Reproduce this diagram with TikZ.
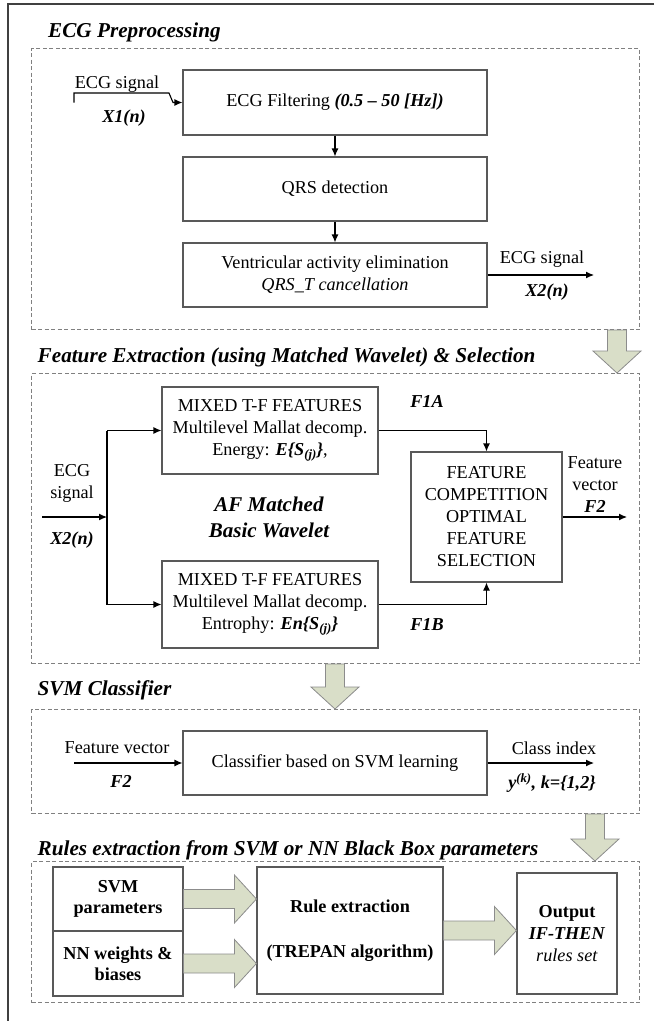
\documentclass[tikz,border=0pt]{standalone}
\usepackage{fontspec}
\setmainfont{Liberation Serif}
\usetikzlibrary{calc,arrows.meta}

\definecolor{sage}{RGB}{217,222,200}
\newcommand\bi[1]{\textbf{\textit{#1}}}
\newcommand\fatarrow[2]{%
  \coordinate (fa-h) at ($(#2)!22pt!(#1)$);
  \filldraw[fat] ($(#1)!9.5pt!90:(#2)$) -- ($(fa-h)!9.5pt!-90:(#1)$) -- ($(fa-h)!24pt!-90:(#1)$)
    -- (#2) -- ($(fa-h)!24pt!90:(#1)$) -- ($(fa-h)!9.5pt!90:(#1)$) -- ($(#1)!9.5pt!-90:(#2)$) -- cycle;}

\tikzset{
  blk/.style={draw=black!65, line width=1.1pt, align=center, inner sep=2pt},
  area/.style={draw=black!50, line width=1pt, dash pattern=on 4pt off 2.5pt, anchor=north west},
  sig/.style={-{Latex[length=8pt,width=7pt]}, line width=1.1pt},
  hd/.style={anchor=west, inner sep=0pt, font=\fontsize{21.2}{22}\selectfont\bfseries\itshape},
  fat/.style={fill=sage, draw=black!45, line width=0.8pt},
}

\begin{document}
\begin{tikzpicture}[x=1pt,y=-1pt,font=\fontsize{18.2}{22}\selectfont]
          \useasboundingbox (0,0) rectangle (654,1021);
          \draw[line width=2pt, black!75] (654,4) -- (8,4) -- (8,1021);

          \node[hd] at (48,32) {ECG Preprocessing};
          \node[area, minimum width=608, minimum height=281] (pre) at (31,48) {};
          \node[blk, minimum width=304, minimum height=65] (filt) at (335,102.5) {ECG Filtering \bi{(0.5 -- 50 [Hz])}};
          \node[blk, minimum width=304, minimum height=64] (qrs) at (335,189) {QRS detection};
          \node[blk, minimum width=304, minimum height=64] (vae) at (335,275) {Ventricular activity elimination\\\textit{QRS\_T cancellation}};
          \node (sig1) at (117,84) {ECG signal};
          \node (x1lbl) at (124,118) {\bi{X1(n)}};
          \node (sig2) at (542,259) {ECG signal};
          \node (x2lbl) at (547,292) {\bi{X2(n)}};
          \coordinate (x1) at (74,102.5);
          \coordinate (x2) at (594,275);
          \draw[sig] (x1) -- (74,93) -- (169,93) -- (173,102.5) -- (filt.west);
          \draw[sig] (filt) -- (qrs);
          \draw[sig] (qrs) -- (vae);
          \draw[sig] (vae) -- (x2);

          \node[hd] at (37.5,357) {Feature Extraction (using Matched Wavelet) \& Selection};
          \node[area, minimum width=608, minimum height=290] (feat) at (31,373) {};
          \node[blk, minimum width=216, minimum height=87] (mixa) at (270,430.5) {MIXED T-F FEATURES\\Multilevel Mallat decomp.\\Energy: \bi{E\{S\textsubscript{(j)}\}},};
          \node[blk, minimum width=216, minimum height=87] (mixb) at (270,604.5) {MIXED T-F FEATURES\\Multilevel Mallat decomp.\\Entrophy: \bi{En\{S\textsubscript{(j)}\}}};
          \node[blk, minimum width=151, minimum height=130] (fc) at (486.5,517) {FEATURE\\COMPETITION\\OPTIMAL\\FEATURE\\SELECTION};
          \node (f1a) at (427,401) {\bi{F1A}};
          \node (f1b) at (427,625) {\bi{F1B}};
          \node[align=center] (sig3) at (72,483) {ECG\\signal};
          \node (x2in) at (72,540) {\bi{X2(n)}};
          \node[align=center, font=\fontsize{21}{26}\selectfont\bfseries\itshape] (afw) at (269,517) {AF Matched\\Basic Wavelet};
          \node[align=center] (fvec) at (595,485) {Feature\\vector\\\bi{F2}};
          \coordinate (s2) at (42,517);
          \coordinate (br) at (107,517);
          \coordinate (f2) at (627,517);
          \draw[sig] (s2) -- (br);
          \draw[line width=1.1pt] (mixa.west -| br) -- (mixb.west -| br);
          \draw[sig] (mixa.west -| br) -- (mixa.west);
          \draw[sig] (mixb.west -| br) -- (mixb.west);
          \draw[sig] (mixa.east) -| (fc.north);
          \draw[sig] (mixb.east) -| (fc.south);
          \draw[sig] (fc.east) -- (f2);

          \node[hd] at (37.5,690) {SVM Classifier};
          \node[area, minimum width=608, minimum height=104] (cls) at (31,709) {};
          \node[blk, minimum width=304, minimum height=64] (svm) at (335,763) {Classifier based on SVM learning};
          \node (fvin) at (117,748) {Feature vector};
          \node (f2in) at (121,781) {\bi{F2}};
          \node (cidx) at (554,748) {Class index};
          \node (ylbl) at (552,783) {\bi{y\textsuperscript{(k)}, k=\{1,2\}}};
          \coordinate (v1) at (74,763);
          \coordinate (v2) at (594,763);
          \draw[sig] (v1) -- (svm);
          \draw[sig] (svm) -- (v2);

          \node[hd] at (37.5,850) {Rules extraction from SVM or NN Black Box parameters};
          \node[area, minimum width=608, minimum height=141] (rex) at (31,861) {};
          \node[blk, font=\fontsize{18.2}{21}\selectfont\bfseries, minimum width=130, minimum height=64] (par) at (118,899) {SVM\\parameters};
          \node[blk, font=\fontsize{18.2}{21}\selectfont\bfseries, minimum width=130, minimum height=65] (nnw) at (118,963.5) {NN weights \&\\biases};
          \node[blk, font=\fontsize{18.2}{22}\selectfont\bfseries, minimum width=186, minimum height=127] (rule) at (350,930.5) {Rule extraction\\[23pt](TREPAN algorithm)};
          \node[blk, minimum width=100, minimum height=121] (out) at (567,933.5) {\textbf{Output}\\\bi{IF-THEN}\\\textit{rules set}};

          \fatarrow{pre.south -| 617,0}{feat.north -| 617,0}
          \fatarrow{feat.south -| 335,0}{cls.north -| 335,0}
          \fatarrow{cls.south -| 595,0}{rex.north -| 595,0}
          \fatarrow{par.east}{par.east -| rule.west}
          \fatarrow{nnw.east}{nnw.east -| rule.west}
          \fatarrow{rule.east}{rule.east -| out.west}
        \end{tikzpicture}
\end{document}
